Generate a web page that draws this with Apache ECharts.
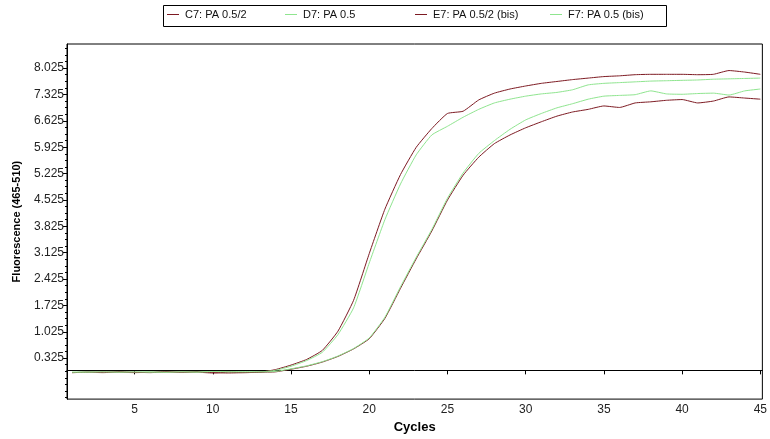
<!DOCTYPE html>
<html>
<head>
<meta charset="utf-8">
<script src="https://cdn.jsdelivr.net/npm/echarts@6/dist/echarts.min.js"></script>
<style>
html,body{margin:0;padding:0;background:#fff;}
#chart{width:770px;height:439px;}
</style>
</head>
<body>
<div id="chart"></div>
<script>
// ---- data ----
const cycles = [1,2,3,4,5,6,7,8,9,10,11,12,13,14,15,16,17,18,19,20,21,22,23,24,25,26,27,28,29,30,31,32,33,34,35,36,37,38,39,40,41,42,43,44,45];
const seriesNames = ["C7: PA 0.5/2", "D7: PA 0.5", "E7: PA 0.5/2 (bis)", "F7: PA 0.5 (bis)"];
const c7 = [-0.06,-0.05,-0.04,-0.05,-0.06,-0.05,-0.04,-0.05,-0.03,-0.06,-0.07,-0.06,-0.05,0.02,0.14,0.29,0.53,1.04,1.86,3.1,4.28,5.2,5.92,6.42,6.82,6.88,7.18,7.36,7.47,7.55,7.62,7.67,7.72,7.76,7.8,7.82,7.85,7.86,7.86,7.86,7.85,7.86,7.96,7.92,7.86];
const d7 = [-0.05,-0.04,-0.05,-0.04,-0.05,-0.04,-0.05,-0.04,-0.04,-0.03,-0.03,-0.04,-0.04,0.0,0.11,0.26,0.48,0.95,1.66,2.85,4.0,4.95,5.72,6.25,6.48,6.72,6.93,7.1,7.2,7.28,7.34,7.38,7.45,7.58,7.62,7.64,7.66,7.68,7.69,7.7,7.71,7.73,7.74,7.75,7.76];
const e7 = [-0.06,-0.05,-0.06,-0.04,-0.05,-0.06,-0.04,-0.05,-0.05,-0.07,-0.05,-0.06,-0.05,-0.04,0.03,0.11,0.22,0.37,0.57,0.84,1.38,2.18,2.96,3.7,4.52,5.18,5.66,6.02,6.25,6.44,6.6,6.75,6.86,6.93,7.02,6.98,7.1,7.13,7.17,7.19,7.1,7.15,7.26,7.23,7.2];
const f7 = [-0.05,-0.05,-0.04,-0.05,-0.04,-0.05,-0.05,-0.04,-0.05,-0.03,-0.04,-0.04,-0.04,-0.03,0.04,0.12,0.23,0.38,0.58,0.86,1.41,2.22,3.0,3.74,4.57,5.24,5.76,6.1,6.4,6.65,6.82,6.97,7.08,7.2,7.28,7.3,7.32,7.42,7.34,7.33,7.35,7.36,7.31,7.42,7.47];
const xTickLabels = [5,10,15,20,25,30,35,40,45];
const yTickLabels = [0.325,1.025,1.725,2.425,3.125,3.825,4.525,5.225,5.925,6.625,7.325,8.025];

const RED = '#7d1a22';
const GREEN = '#8fe58f';
const colors = [RED, GREEN, RED, GREEN];
const values = [c7, d7, e7, f7];

const Y_MIN = -0.763, Y_MAX = 8.665;
const X_MIN = 0.68, X_MAX = 45.13;

const minorY = [];
for (let v = -0.725; v < Y_MAX; v += 0.175) {
  minorY.push(Math.round(v * 1000) / 1000);
}

const chart = echarts.init(document.getElementById('chart'), null, {renderer: 'canvas'});

const series = values.map((vals, i) => ({
  name: seriesNames[i],
  type: 'line',
  xAxisIndex: 0,
  yAxisIndex: 0,
  data: cycles.map((c, k) => [c, vals[k]]),
  showSymbol: false,
  symbol: 'none',
  smooth: 0.15,
  lineStyle: {color: colors[i], width: 1},
  itemStyle: {color: colors[i]},
  animation: false
}));

const legendLefts = [167, 285, 415, 550];
const legends = seriesNames.map((n, i) => ({
  data: [n],
  left: legendLefts[i],
  top: 9,
  padding: 0,
  itemWidth: 12,
  itemHeight: 1,
  icon: 'rect',
  itemGap: 0,
  textStyle: {fontFamily: 'Liberation Sans, Arial, sans-serif', fontSize: 11, color: '#111', padding: [0,0,0,1]},
  selectedMode: false
}));

const labelFont = 'Liberation Sans, Arial, sans-serif';
const narrowFont = '"Liberation Sans Narrow", "Arial Narrow", "Liberation Sans", sans-serif';

chart.setOption({
  animation: false,
  backgroundColor: '#fff',
  color: colors,
  legend: legends,
  graphic: [{
    type: 'rect',
    shape: {x: 163.5, y: 5.5, width: 503, height: 21},
    style: {fill: 'none', stroke: '#000', lineWidth: 1},
    z: 0
  }],
  grid: {
    left: 67, right: 3, top: 44, bottom: 37,
    show: true, borderColor: '#000', borderWidth: 1, backgroundColor: '#fff'
  },
  xAxis: [{
    type: 'value',
    min: X_MIN, max: X_MAX,
    name: 'Cycles',
    nameLocation: 'middle',
    nameGap: 21,
    nameTextStyle: {fontFamily: narrowFont, fontWeight: 'bold', fontSize: 13, color: '#000'},
    axisLine: {show: true, lineStyle: {color: '#000', width: 1}},
    axisTick: {show: true, length: 4, lineStyle: {color: '#000'}, customValues: xTickLabels},
    axisLabel: {show: true, customValues: xTickLabels, margin: 5, fontFamily: narrowFont, fontSize: 12, color: '#222',
      showMinLabel: true, showMaxLabel: true},
    splitLine: {show: false}
  }],
  yAxis: [{
    type: 'value',
    min: Y_MIN, max: Y_MAX,
    name: 'Fluorescence (465-510)',
    nameLocation: 'middle',
    nameGap: 45,
    nameRotate: 90,
    nameTextStyle: {fontFamily: labelFont, fontWeight: 'bold', fontSize: 11, color: '#000'},
    axisLine: {show: true, lineStyle: {color: '#000', width: 1}},
    axisTick: {show: true, length: 4, lineStyle: {color: '#000'}, customValues: yTickLabels},
    axisLabel: {show: true, customValues: yTickLabels, margin: 3, fontFamily: labelFont, fontSize: 12, color: '#222',
      formatter: v => v.toFixed(3)},
    splitLine: {show: false}
  }, {
    type: 'value',
    min: Y_MIN, max: Y_MAX,
    position: 'left',
    axisLine: {show: false},
    axisTick: {show: true, length: 2, lineStyle: {color: '#000'}, customValues: minorY},
    axisLabel: {show: false},
    splitLine: {show: false}
  }],
  series: series
});
</script>
</body>
</html>
